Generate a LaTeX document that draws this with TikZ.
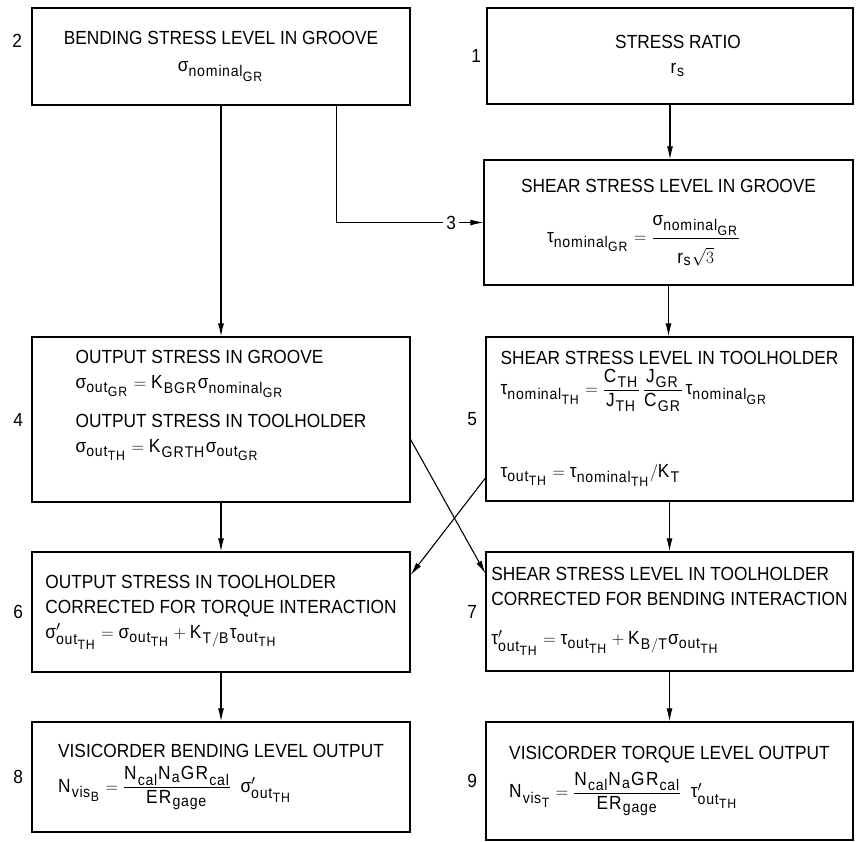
\documentclass[tikz,border=0pt]{standalone}
\usepackage{amsmath}
\usepackage{fontspec}
\setmainfont{Liberation Sans}[FakeStretch=0.91]
\usetikzlibrary{arrows.meta}
\DeclareMathSizes{19}{19}{15.5}{13.5}

\newcommand{\sgm}{\text{σ}}
\newcommand{\tu}{\text{τ}}
\newcommand{\nom}[1]{_{\mathrm{nominal}_{\mathrm{#1}}}}
\newcommand{\outs}[1]{_{\mathrm{out}_{\mathrm{#1}}}}

\begin{document}
\begin{tikzpicture}[x=1pt, y=-1pt, font=\fontsize{19}{25}\selectfont]
        % Setup the styles for the blocks and arrows
        \tikzset{block style/.style={draw,
                                     line width=1.2pt,
                                     inner sep=0pt},
                 num/.style={label={[label distance=5pt]left:#1}},
                 flow/.style={-{Latex[length=13pt,width=6pt]},
                              line width=1.1pt}}

        \fill[white] (0,0) rectangle (862,841);
        \useasboundingbox (0,0) rectangle (862,841);

        % Draw the blocks
        \node[block style, align=center, minimum width=378, minimum height=97,
              label={[label distance=6pt, yshift=16pt]left:2}] at (221,56.5) (bend)
            {BENDING STRESS LEVEL IN GROOVE\\[2pt] $\sgm\nom{GR}$};
        \node[block style, align=center, minimum width=366, minimum height=96,
              label={[label distance=2pt]left:1}] at (670,56) (ratio)
            {\hspace*{16pt}STRESS RATIO\\ \hspace*{16pt}$\mathrm{r}_{\mathrm{s}}$};
        \node[block style, align=center, minimum width=369, minimum height=125] at (668.5,222.5) (shgr)
            {SHEAR STRESS LEVEL IN GROOVE\\[22pt]
             $\tu\nom{GR} = \dfrac{\sgm\nom{GR}\rule[-10pt]{0pt}{10pt}}{\rule{0pt}{23pt}\mathrm{r}_{\mathrm{s}}\sqrt{3}}$\hspace*{50pt}};
        \node[block style, align=left, minimum width=378, minimum height=165,
              num=4] at (221,419.5) (outgr)
            {OUTPUT STRESS IN GROOVE\\
             $\sgm\outs{GR} = \mathrm{K}_{\mathrm{BGR}}\sgm\nom{GR}$\\[14pt]
             OUTPUT STRESS IN TOOLHOLDER\\
             $\sgm\outs{TH} = \mathrm{K}_{\mathrm{GRTH}}\sgm\outs{GR}$\\[12pt]\mbox{}};
        \node[block style, align=left, minimum width=367, minimum height=164,
              num=5] at (669.5,419) (shth)
            {SHEAR STRESS LEVEL IN TOOLHOLDER\\[4pt]
             $\tu\nom{TH} = \dfrac{\mathrm{C}_{\mathrm{TH}}}{\mathrm{J}_{\mathrm{TH}}}\,
              \dfrac{\mathrm{J}_{\mathrm{GR}}}{\mathrm{C}_{\mathrm{GR}}}\,\tu\nom{GR}$\\[52pt]
             $\tu\outs{TH} = \tu\nom{TH}/\mathrm{K}_{\mathrm{T}}$};
        \node[block style, align=left, minimum width=378, minimum height=120,
              num=6] at (221,612) (corrb)
            {OUTPUT STRESS IN TOOLHOLDER\\
             CORRECTED FOR TORQUE INTERACTION\\
             $\sgm'\outs{TH} = \sgm\outs{TH} + \mathrm{K}_{\mathrm{T/B}}\tu\outs{TH}$};
        \node[block style, align=left, minimum width=367, minimum height=119,
              num=7] at (669.5,611.5) (corrt)
            {SHEAR STRESS LEVEL IN TOOLHOLDER\\
             CORRECTED FOR BENDING INTERACTION\\[14pt]
             $\tu'\outs{TH} = \tu\outs{TH} + \mathrm{K}_{\mathrm{B/T}}\sgm\outs{TH}$};
        \node[block style, align=left, minimum width=378, minimum height=110,
              num=8] at (221,777) (visb)
            {VISICORDER BENDING LEVEL OUTPUT\\[8pt]
             $\mathrm{N}_{\mathrm{vis}_{\mathrm{B}}} =
              \dfrac{\mathrm{N}_{\mathrm{cal}}\mathrm{N}_{\mathrm{a}}\mathrm{GR}_{\mathrm{cal}}}{\mathrm{ER}_{\mathrm{gage}}}
              \;\;\sgm'\outs{TH}$};
        \node[block style, align=left, minimum width=367, minimum height=118,
              num=9] at (669.5,781) (vist)
            {VISICORDER TORQUE LEVEL OUTPUT\\[8pt]
             $\mathrm{N}_{\mathrm{vis}_{\mathrm{T}}} =
              \dfrac{\mathrm{N}_{\mathrm{cal}}\mathrm{N}_{\mathrm{a}}\mathrm{GR}_{\mathrm{cal}}}{\mathrm{ER}_{\mathrm{gage}}}
              \;\;\tu'\outs{TH}$};

        % Connect the blocks with arrows
        \draw[flow] (ratio.south) -- (ratio.south |- shgr.north);
        \draw[flow] ([xshift=-74pt]bend.south east) |-
              node[pos=0.89, fill=white, inner sep=3pt] {3} (shgr.west);
        \draw[flow] (bend.south) -- (bend.south |- outgr.north);
        \draw[flow] (shgr.south) -- (shgr.south |- shth.north);
        \draw[flow] (outgr.south) -- (outgr.south |- corrb.north);
        \draw[flow] (shth.south) -- (shth.south |- corrt.north);
        \draw[flow] (corrb.south) -- (corrb.south |- visb.north);
        \draw[flow] (corrt.south) -- (corrt.south |- vist.north);
        \draw[flow] ([yshift=-20pt]outgr.east) -- ([yshift=38pt]corrt.west);
        \draw[flow] ([yshift=-59pt]shth.west) -- ([yshift=37pt]corrb.east);
\end{tikzpicture}
\end{document}
